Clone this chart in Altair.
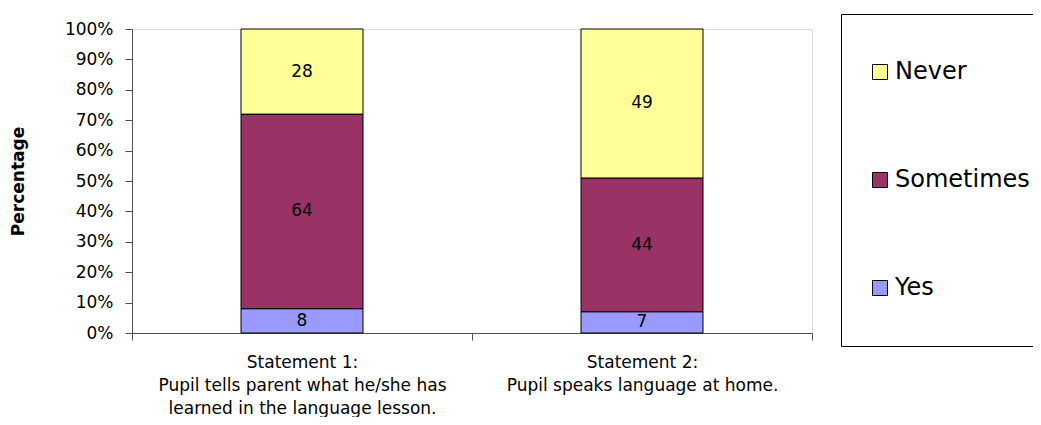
import altair as alt
import pandas as pd

statements = [
    "Statement 1:|Pupil tells parent what he/she has|learned in the language lesson.",
    "Statement 2:|Pupil speaks language at home.",
]
responses = ["Yes", "Sometimes", "Never"]
yes_vals = [8, 7]
sometimes_vals = [64, 44]
never_vals = [28, 49]
y_ticks = [0, 0.1, 0.2, 0.3, 0.4, 0.5, 0.6, 0.7, 0.8, 0.9, 1.0]
colors = {"Never": "#FFFF99", "Sometimes": "#993366", "Yes": "#9999FF"}
legend_order = ["Never", "Sometimes", "Yes"]

rows = []
for i, s in enumerate(statements):
    for rank, (resp, vals) in enumerate(zip(responses, [yes_vals, sometimes_vals, never_vals])):
        rows.append({"statement": s, "response": resp, "rank": rank, "value": vals[i]})
df = pd.DataFrame(rows)

FONT = "DejaVu Sans"
AXIS_COLOR = "#505050"

base = alt.Chart(df).transform_stack(
    stack="value", groupby=["statement"], sort=[alt.SortField("rank")],
    offset="normalize", as_=["y0", "y1"]
).transform_calculate(mid="(datum.y0 + datum.y1) / 2")

x_axis = alt.Axis(
    labelExpr="split(datum.label, '|')", labelAngle=0, labelFont=FONT,
    labelFontSize=17, labelLineHeight=23, labelColor="black",
    labelPadding=14, tickBand="extent", tickSize=7, tickColor=AXIS_COLOR,
    domainColor=AXIS_COLOR, labelLimit=400, labelOverlap=False,
)
y_axis = alt.Axis(
    format="%", values=y_ticks, grid=False, labelOverlap=False, tickCount=20,
    labelFont=FONT, labelFontSize=17, labelColor="black", labelPadding=12,
    tickSize=7, tickColor=AXIS_COLOR, domainColor=AXIS_COLOR,
    titleFont=FONT, titleFontSize=17, titleFontWeight="bold", titleColor="black",
    titleX=-105, titleY=152, titleAngle=-90, titleBaseline="bottom", titleAlign="center",
)
x_scale = alt.Scale(paddingInner=0, paddingOuter=0)
y_scale = alt.Scale(domain=[0, 1], nice=False)

bars = base.mark_bar(size=122, stroke="black", strokeWidth=1).encode(
    x=alt.X("statement:N", sort=statements, title=None, scale=x_scale, axis=x_axis),
    y=alt.Y("y0:Q", title="Percentage", scale=y_scale, axis=y_axis),
    y2="y1:Q",
    color=alt.Color(
        "response:N",
        scale=alt.Scale(domain=legend_order, range=[colors[k] for k in legend_order]),
        legend=alt.Legend(
            title=None, orient="none", legendX=709, legendY=-15,
            padding=4, clipHeight=108, rowPadding=0,
            symbolType="square", symbolSize=225, symbolStrokeColor="black",
            symbolStrokeWidth=1, symbolOffset=23, labelOffset=3,
            labelFont=FONT, labelFontSize=24, labelColor="black",
            strokeColor="black", fillColor="white", labelLimit=300,
        ),
    ),
)

labels = base.mark_text(font=FONT, fontSize=17, color="black").encode(
    x=alt.X("statement:N", sort=statements, title=None, scale=x_scale, axis=x_axis),
    y=alt.Y("mid:Q", title="Percentage", scale=y_scale, axis=y_axis),
    text=alt.Text("value:Q"),
)

chart = alt.layer(bars, labels).properties(
    width=680, height=304,
    autosize=alt.AutoSizeParams(type="none"),
    padding={"left": 124, "top": 21, "right": 221, "bottom": 84},
).configure_view(stroke=None).configure(background="white")

chart.save("out.html", embed_options={"renderer": "svg", "actions": False})
